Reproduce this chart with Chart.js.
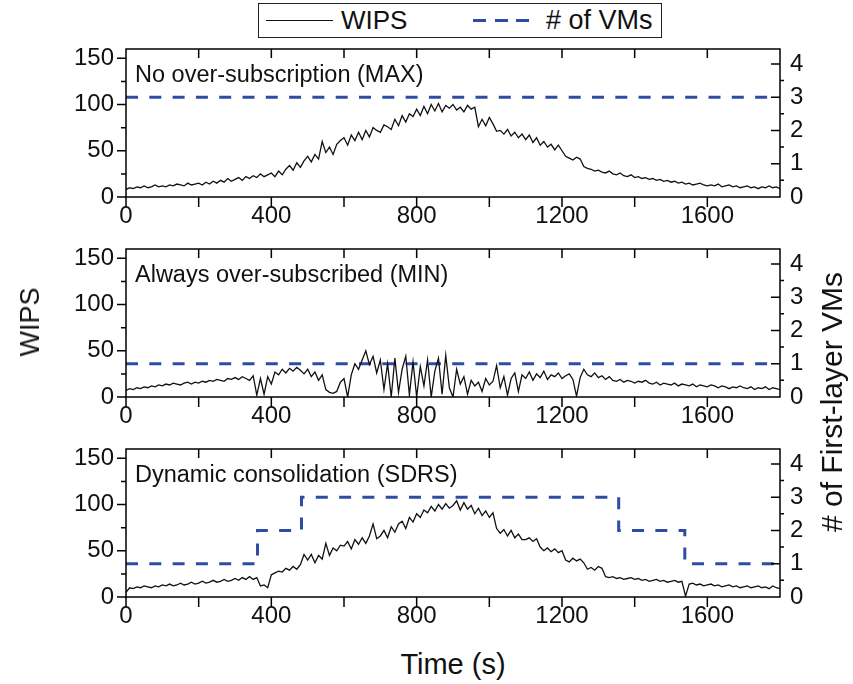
<!DOCTYPE html>
<html>
<head>
<meta charset="utf-8">
<script src="https://cdn.jsdelivr.net/npm/chart.js@4.4.1/dist/chart.umd.min.js"></script>
<style>
  body { margin: 0; background: #fff; font-family: "Liberation Sans", Arial, sans-serif; color: #111; }
  #wrap { position: relative; width: 853px; height: 684px; overflow: hidden; }
  canvas { position: absolute; left: 0; }
  .lbl { position: absolute; white-space: nowrap; font-size: 28px; line-height: 32px; }
  #legend { position: absolute; left: 258px; top: 3px; width: 402px; height: 33px; border: 1.5px solid #222; }
  #legend .txt { position: absolute; top: 1px; font-size: 26px; line-height: 30px; }
  #legend .solid { position: absolute; left: 7px; top: 16px; width: 67px; height: 0; border-top: 1.5px solid #111; }
  #legend .dash { position: absolute; left: 214px; top: 15px; width: 56px; height: 3px;
    background: repeating-linear-gradient(90deg, #2e4ca6 0 13px, transparent 13px 21.5px); }
</style>
</head>
<body>
<div id="wrap">
  <div id="legend">
    <div class="solid"></div><div class="txt" style="left:82px">WIPS</div>
    <div class="dash"></div><div class="txt" style="left:287px; font-size:27px"># of VMs</div>
  </div>
  <canvas id="p0" width="853" height="200" style="top:40px"></canvas>
  <canvas id="p1" width="853" height="200" style="top:240px"></canvas>
  <canvas id="p2" width="853" height="200" style="top:440px"></canvas>
  <div class="lbl" style="left:30px; top:322px; font-size:27px; transform: translate(-50%,-50%) rotate(-90deg);">WIPS</div>
  <div class="lbl" style="left:832px; top:402px; font-size:30px; transform: translate(-50%,-50%) rotate(-90deg);"># of First-layer VMs</div>
  <div class="lbl" style="left:453px; top:664px; font-size:29px; transform: translate(-50%,-50%);">Time (s)</div>
</div>
<script>
// WIPS sampled every 10 s, from 0 to 1800 s
const sampleStep = 10;

const wipsMax = [
    8, 10, 9, 11, 10, 12, 10, 11, 13, 11,
    12, 11, 13, 12, 14, 13, 12, 15, 13, 14,
    15, 13, 16, 14, 17, 15, 18, 16, 20, 17,
    19, 21, 18, 22, 20, 23, 21, 25, 22, 24,
    26, 22, 28, 24, 30, 34, 29, 37, 32, 39,
    44, 38, 46, 41, 60, 48, 54, 46, 57, 61,
    64, 56, 67, 61, 70, 62, 72, 65, 75, 72,
    70, 78, 76, 73, 84, 77, 88, 81, 90, 87,
    95, 88, 98, 90, 100, 93, 101, 92, 99, 96,
    100, 94, 97, 92, 99, 95, 97, 76, 84, 77,
    86, 79, 71, 72, 68, 73, 66, 70, 64, 68,
    62, 67, 59, 64, 56, 60, 54, 57, 51, 56,
    50, 44, 42, 40, 43, 41, 33, 31, 30, 28,
    29, 27, 26, 28, 25, 24, 26, 23, 22, 24,
    21, 22, 20, 21, 19, 20, 18, 19, 17, 18,
    16, 17, 15, 16, 14, 15, 13, 14, 15, 13,
    12, 13, 12, 14, 11, 12, 13, 11, 12, 10,
    11, 12, 10, 11, 9, 11, 10, 12, 10, 11,
    9
];

const wipsMin = [
    7, 9, 8, 10, 9, 11, 10, 12, 11, 13,
    12, 14, 13, 15, 14, 13, 15, 16, 14, 16,
    15, 17, 16, 18, 17, 19, 18, 17, 20, 19,
    21, 19, 22, 20, 18, 23, 2, 20, 3, 22,
    14, 27, 24, 30, 26, 31, 28, 32, 29, 25,
    30, 22, 27, 18, 24, 8, 5, 4, 6, 16,
    20, 0, 24, 36, 30, 40, 50, 35, 44, 26,
    40, 8, 36, 0, 42, 5, 30, 44, 2, 38,
    0, 33, 12, 40, 0, 28, 42, 3, 45, 10,
    0, 30, 14, 22, 3, 18, 12, 16, 6, 20,
    13, 17, 34, 10, 22, 2, 20, 26, 6, 24,
    20, 27, 18, 25, 21, 28, 19, 24, 22, 26,
    20, 23, 25, 19, 1, 21, 30, 24, 22, 26,
    21, 23, 19, 22, 18, 17, 19, 16, 18, 17,
    15, 17, 16, 18, 15, 14, 16, 13, 15, 14,
    13, 15, 12, 14, 13, 12, 14, 11, 13, 12,
    11, 13, 12, 10, 12, 11, 9, 11, 10, 12,
    10, 9, 11, 8, 10, 9, 11, 8, 10, 9,
    8
];

const wipsSdrs = [
    5, 10, 9, 11, 10, 12, 11, 10, 12, 11,
    13, 12, 14, 12, 13, 15, 13, 14, 16, 14,
    15, 17, 15, 16, 18, 16, 17, 19, 17, 18,
    20, 18, 21, 19, 22, 19, 21, 12, 13, 10,
    24, 26, 28, 27, 31, 29, 33, 30, 35, 46,
    40, 46, 37, 45, 41, 58, 45, 53, 50, 56,
    55, 60, 52, 62, 57, 64, 58, 66, 79, 63,
    66, 72, 64, 76, 70, 79, 82, 74, 86, 81,
    90, 86, 94, 91, 98, 93, 100, 95, 101, 96,
    99, 104, 94, 102, 95, 99, 90, 96, 88, 93,
    86, 91, 74, 69, 73, 66, 72, 64, 68, 62,
    62, 64, 60, 63, 54, 50, 53, 49, 52, 48,
    50, 40, 38, 42, 39, 41, 37, 30, 32, 29,
    33, 31, 22, 21, 22, 20, 21, 19, 20, 21,
    19, 20, 18, 19, 17, 18, 19, 17, 18, 16,
    17, 18, 16, 17, 1, 14, 15, 13, 14, 12,
    13, 14, 12, 13, 11, 12, 13, 11, 12, 10,
    11, 12, 10, 11, 12, 10, 11, 9, 12, 10,
    9
];

// number of first-layer VMs: times where the count changes
const vmTimesMax = [0, 1785];
const vmCountMax = [3, 3];
const vmTimesMin = [0, 1785];
const vmCountMin = [1, 1];
const vmTimesSdrs = [0, 362, 483, 1356, 1538, 1785];
const vmCountSdrs = [1, 2, 3, 2, 1, 1];

const timeTicks = [0, 400, 800, 1200, 1600];
const wipsTicks = [0, 50, 100, 150];
const vmTicks = [0, 1, 2, 3, 4];

const panelTitles = [
    'No over-subscription (MAX)',
    'Always over-subscribed (MIN)',
    'Dynamic consolidation (SDRS)'
];

const blue = '#2e4ca6';
const tickFont = { family: '"Liberation Sans", Arial, sans-serif', size: 24 };

function toPoints(xs, ys) {
    return ys.map(function (v, i) { return { x: xs[i], y: v }; });
}

const framePlugin = {
    id: 'frame',
    afterDraw(chart, args, opts) {
        const ctx = chart.ctx;
        const a = chart.chartArea;
        const sx = chart.scales.x, sy = chart.scales.y, sy2 = chart.scales.y2;
        ctx.save();
        ctx.strokeStyle = '#000';
        ctx.lineWidth = 1.5;
        ctx.strokeRect(a.left, a.top, a.right - a.left, a.bottom - a.top);
        ctx.beginPath();
        for (let t = 0; t < 1800; t += 200) {
            const px = sx.getPixelForValue(t);
            ctx.moveTo(px, a.bottom); ctx.lineTo(px, a.bottom + 10);
            if (t > 0) { ctx.moveTo(px, a.top); ctx.lineTo(px, a.top + 9); }
        }
        for (let w = 0; w <= 150; w += 25) {
            const py = sy.getPixelForValue(w);
            const len = (w % 50 === 0) ? 9 : 5;
            ctx.moveTo(a.left - len, py); ctx.lineTo(a.left, py);
        }
        for (let n = 0.5; n <= 4.4; n += 0.5) {
            const py = sy2.getPixelForValue(n);
            if (n % 1 === 0) { ctx.moveTo(a.right - 9, py); ctx.lineTo(a.right, py); }
            else { ctx.moveTo(a.right, py); ctx.lineTo(a.right + 4, py); }
        }
        ctx.stroke();
        ctx.fillStyle = '#111';
        ctx.font = '23.5px "Liberation Sans", Arial, sans-serif';
        ctx.textBaseline = 'alphabetic';
        ctx.fillText(opts.title, a.left + 9, a.top + 33);
        ctx.restore();
    }
};

function makePanel(id, title, wips, vmTimes, vmCount) {
    const times = wips.map(function (v, i) { return i * sampleStep; });
    new Chart(document.getElementById(id), {
        type: 'line',
        plugins: [framePlugin],
        data: {
            datasets: [
                {
                    label: 'WIPS',
                    data: toPoints(times, wips),
                    yAxisID: 'y',
                    borderColor: '#111',
                    borderWidth: 1.3,
                    pointRadius: 0,
                    tension: 0
                },
                {
                    label: '# of VMs',
                    data: toPoints(vmTimes, vmCount),
                    yAxisID: 'y2',
                    borderColor: blue,
                    borderWidth: 3,
                    borderDash: [12, 11.3],
                    stepped: true,
                    pointRadius: 0
                }
            ]
        },
        options: {
            responsive: false,
            animation: false,
            layout: { padding: { top: 9, left: 0, right: 0, bottom: 0 } },
            plugins: {
                legend: { display: false },
                tooltip: { enabled: false },
                frame: { title: title }
            },
            scales: {
                x: {
                    type: 'linear', position: 'bottom', min: 0, max: 1800,
                    grid: { display: false, drawTicks: false },
                    border: { display: false },
                    afterBuildTicks: function (s) { s.ticks = timeTicks.map(function (v) { return { value: v }; }); },
                    afterFit: function (s) { s.height = 43; s.paddingLeft = 0; s.paddingRight = 0; },
                    ticks: { font: tickFont, color: '#111', padding: 5, maxRotation: 0, autoSkip: false,
                        callback: function (v) { return String(v); } }
                },
                y: {
                    position: 'left', min: 0, max: 160,
                    grid: { display: false, drawTicks: false },
                    border: { display: false },
                    afterBuildTicks: function (s) { s.ticks = wipsTicks.map(function (v) { return { value: v }; }); },
                    afterFit: function (s) { s.width = 126; s.paddingTop = 0; s.paddingBottom = 0; },
                    ticks: { font: tickFont, color: '#111', padding: 12,
                        callback: function (v) { return String(v); } }
                },
                y2: {
                    position: 'right', min: 0, max: 4.45,
                    grid: { display: false, drawTicks: false },
                    border: { display: false },
                    afterBuildTicks: function (s) { s.ticks = vmTicks.map(function (v) { return { value: v }; }); },
                    afterFit: function (s) { s.width = 73; s.paddingTop = 0; s.paddingBottom = 0; },
                    ticks: { font: tickFont, color: '#111', padding: 10,
                        callback: function (v) { return String(v); } }
                }
            }
        }
    });
}

makePanel('p0', panelTitles[0], wipsMax, vmTimesMax, vmCountMax);
makePanel('p1', panelTitles[1], wipsMin, vmTimesMin, vmCountMin);
makePanel('p2', panelTitles[2], wipsSdrs, vmTimesSdrs, vmCountSdrs);
</script>
</body>
</html>
